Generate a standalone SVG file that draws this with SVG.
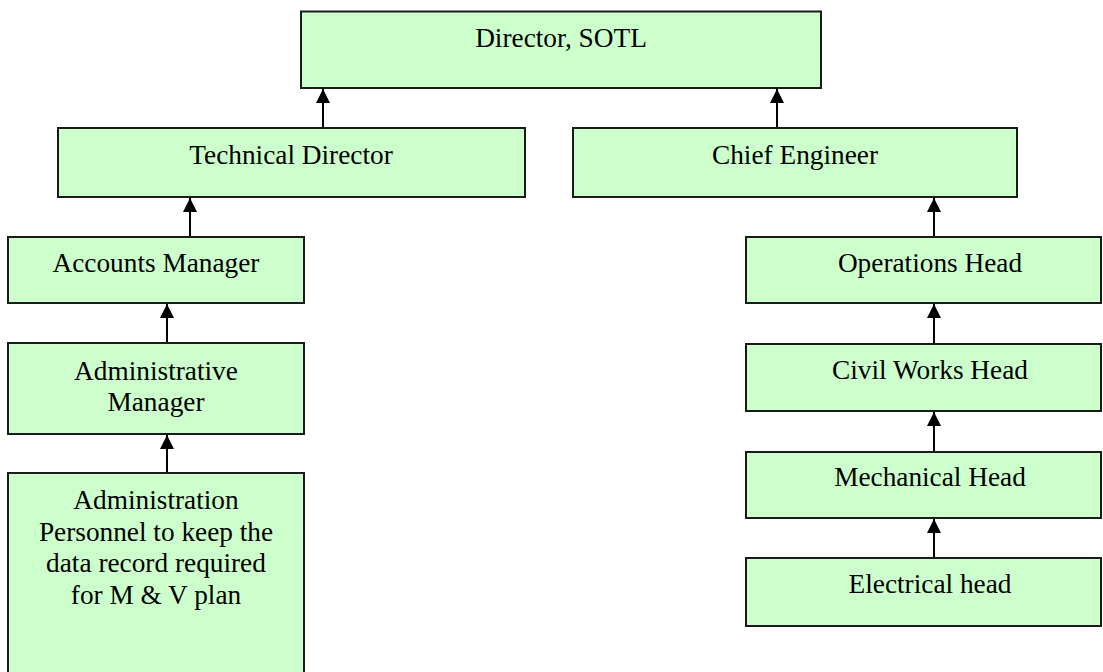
<svg xmlns="http://www.w3.org/2000/svg" width="1103" height="672" viewBox="0 0 1103 672">
<style>
.box{fill:#ccffcc;stroke:#1a1a1a;stroke-width:2}
.t{font-family:"Liberation Serif","Times New Roman",serif;font-size:27.3px;fill:#000;text-anchor:middle}
.c{stroke:#000;stroke-width:2;fill:none;marker-end:url(#ah)}
</style>
<defs>
<marker id="ah" markerUnits="userSpaceOnUse" markerWidth="16" markerHeight="16" viewBox="0 0 16 16" refX="14" refY="8" orient="auto">
<path d="M0,1 L14,8 L0,15 Z" fill="#000"/>
</marker>
</defs>
<rect width="1103" height="672" fill="#fff"/>
<g id="connectors">
<line class="c" x1="323" y1="128" x2="323" y2="89"/>
<line class="c" x1="777" y1="128" x2="777" y2="89"/>
<line class="c" x1="190" y1="237" x2="190" y2="198"/>
<line class="c" x1="167" y1="343" x2="167" y2="304"/>
<line class="c" x1="167" y1="473" x2="167" y2="435"/>
<line class="c" x1="934" y1="237" x2="934" y2="198"/>
<line class="c" x1="934" y1="344" x2="934" y2="304"/>
<line class="c" x1="934" y1="452" x2="934" y2="412"/>
<line class="c" x1="934" y1="558" x2="934" y2="519"/>
</g>
<g id="director"><rect class="box" x="301" y="11.5" width="520" height="76.5"/><text class="t" x="561" y="47">Director, SOTL</text></g>
<g id="technical-director"><rect class="box" x="58" y="128" width="467" height="69"/><text class="t" x="291" y="164">Technical Director</text></g>
<g id="chief-engineer"><rect class="box" x="573" y="128" width="444" height="69"/><text class="t" x="795" y="164">Chief Engineer</text></g>
<g id="accounts-manager"><rect class="box" x="8" y="237" width="296" height="66"/><text class="t" x="156" y="272">Accounts Manager</text></g>
<g id="administrative-manager"><rect class="box" x="8" y="343" width="296" height="91"/><text class="t" x="156" y="380">Administrative</text><text class="t" x="156" y="411">Manager</text></g>
<g id="administration-personnel"><rect class="box" x="8" y="473" width="296" height="210"/><text class="t" x="156" y="509">Administration</text><text class="t" x="156" y="540.5">Personnel to keep the</text><text class="t" x="156" y="572">data record required</text><text class="t" x="156" y="603.5">for M &amp; V plan</text></g>
<g id="operations-head"><rect class="box" x="746" y="237" width="355" height="66"/><text class="t" x="930" y="272">Operations Head</text></g>
<g id="civil-works-head"><rect class="box" x="746" y="344" width="355" height="67"/><text class="t" x="930" y="379">Civil Works Head</text></g>
<g id="mechanical-head"><rect class="box" x="746" y="452" width="355" height="66"/><text class="t" x="930" y="486">Mechanical Head</text></g>
<g id="electrical-head"><rect class="box" x="746" y="558" width="355" height="68"/><text class="t" x="930" y="593">Electrical head</text></g>
</svg>
